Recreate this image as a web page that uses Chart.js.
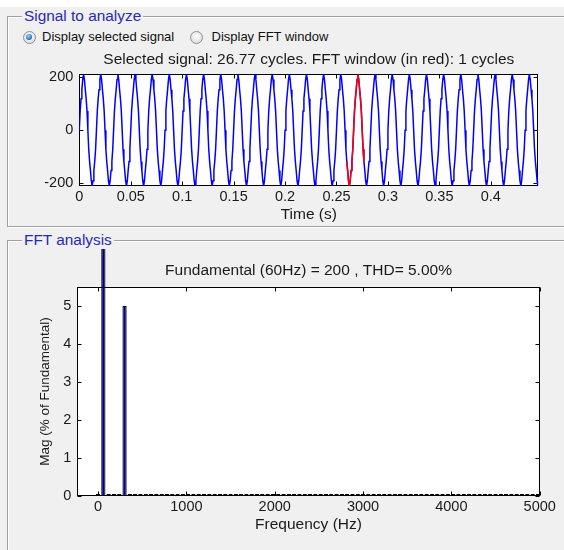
<!DOCTYPE html>
<html><head><meta charset="utf-8">
<script src="https://cdn.jsdelivr.net/npm/chart.js@4.4.0/dist/chart.umd.min.js"></script>
<style>
html,body{margin:0;padding:0;}
body{width:564px;height:550px;background:#f0f0f0;position:relative;overflow:hidden;font-family:"Liberation Sans",Arial,sans-serif;}
.strip{position:absolute;left:0;top:0;width:564px;height:7px;background:#fff;}
.group{position:absolute;border:1px solid #a0a0a0;box-shadow:inset 1px 1px 0 #fff,1px 1px 0 #fff;}
.legend{position:absolute;background:#f0f0f0;color:#2a2ab0;font-size:15.4px;line-height:18px;padding:0 2px;white-space:nowrap;}
.radio{position:absolute;width:11px;height:11px;border-radius:50%;border:1px solid #8e8f8f;background:radial-gradient(circle at 50% 40%,#fff,#d4d4d4);}
.radio.on::after{content:"";position:absolute;left:2.5px;top:2.5px;width:6px;height:6px;border-radius:50%;background:radial-gradient(circle at 40% 35%,#9ad6f7,#1a6fb5 70%,#0d4f8a);}
.rlabel{position:absolute;font-size:13px;line-height:16px;color:#111;white-space:nowrap;}
canvas{position:absolute;left:0;}
</style></head>
<body>
<div class="strip"></div>
<div class="group" style="left:7px;top:16px;width:580px;height:209px;"></div>
<div class="legend" style="left:22px;top:7px;">Signal to analyze</div>
<div class="radio on" style="left:22.5px;top:30.5px;"></div>
<div class="rlabel" style="left:42px;top:29px;">Display selected signal</div>
<div class="radio" style="left:190px;top:31px;"></div>
<div class="rlabel" style="left:211.5px;top:29px;">Display FFT window</div>
<div class="group" style="left:7px;top:240px;width:580px;height:400px;"></div>
<div class="legend" style="left:22px;top:231px;">FFT analysis</div>
<canvas id="sig" width="564" height="186" style="top:44px;width:564px;height:186px;"></canvas>
<canvas id="fft" width="564" height="291" style="top:249px;width:564px;height:291px;"></canvas>
<script>
// ---- data ----
const fundamentalHz = 60;
const samplesPerCycle = 20;
const cyclesShown = 26.77;
const fftWindowStart = 0.26;
const fftWindowCycles = 1;
// one cycle of the selected signal
const cycleSamples = [0, 71.8, 117.6, 151.8, 190.2, 210, 190.2, 151.8, 117.6, 71.8,
                      0, -71.8, -117.6, -151.8, -190.2, -210, -190.2, -151.8, -117.6, -71.8];
const timeTicks = [0, 0.05, 0.1, 0.15, 0.2, 0.25, 0.3, 0.35, 0.4];
const timeTickLabels = ['0', '0.05', '0.1', '0.15', '0.2', '0.25', '0.3', '0.35', '0.4'];
const signalTicks = [-200, 0, 200];
const signalTickLabels = ['-200', '0', '200'];
// FFT magnitude (% of fundamental) per harmonic order 0..83
const fftMagnitude = [0, 100, 0, 0, 0, 5, 0, 0, 0, 0,
  0, 0, 0, 0, 0, 0, 0, 0, 0, 0,
  0, 0, 0, 0, 0, 0, 0, 0, 0, 0,
  0, 0, 0, 0, 0, 0, 0, 0, 0, 0,
  0, 0, 0, 0, 0, 0, 0, 0, 0, 0,
  0, 0, 0, 0, 0, 0, 0, 0, 0, 0,
  0, 0, 0, 0, 0, 0, 0, 0, 0, 0,
  0, 0, 0, 0, 0, 0, 0, 0, 0, 0,
  0, 0, 0, 0];
const freqTicks = [0, 1000, 2000, 3000, 4000, 5000];
const freqTickLabels = ['0', '1000', '2000', '3000', '4000', '5000'];
const magTicks = [0, 1, 2, 3, 4, 5];
const magTickLabels = ['0', '1', '2', '3', '4', '5'];
const signalTitle = 'Selected signal: 26.77 cycles. FFT window (in red): 1 cycles';
const fftTitle = 'Fundamental (60Hz) = 200 , THD= 5.00%';

// ---- build ----
const FONT = '"Liberation Sans", Arial, sans-serif';
const TXT = '#1a1a1a';
const frameTicks = {
  id: 'frameTicks',
  beforeDatasetsDraw(chart, args, opts) {
    const {ctx, chartArea: a, scales} = chart;
    const L = opts.len || 4;
    ctx.save();
    ctx.fillStyle = '#fff';
    ctx.fillRect(a.left, a.top, a.right - a.left, a.bottom - a.top);
    ctx.strokeStyle = '#000';
    ctx.lineWidth = 1;
    const l = Math.round(a.left) + 0.5, r = Math.round(a.right) - 0.5;
    const t = Math.round(a.top) + 0.5, b = Math.round(a.bottom) - 0.5;
    ctx.strokeRect(l, t, r - l, b - t);
    ctx.beginPath();
    scales.x.ticks.forEach(tk => {
      const p = Math.round(scales.x.getPixelForValue(tk.value)) + 0.5;
      ctx.moveTo(p, b); ctx.lineTo(p, b - L);
      ctx.moveTo(p, t); ctx.lineTo(p, t + L);
    });
    scales.y.ticks.forEach(tk => {
      const p = Math.round(scales.y.getPixelForValue(tk.value)) + 0.5;
      ctx.moveTo(l, p); ctx.lineTo(l + L, p);
      ctx.moveTo(r, p); ctx.lineTo(r - L, p);
    });
    ctx.stroke();
    ctx.restore();
  }
};

const sigPts = [], redPts = [];
const nPts = Math.floor(cyclesShown * samplesPerCycle);
const dt = 1 / (fundamentalHz * samplesPerCycle);
const winEnd = fftWindowStart + fftWindowCycles / fundamentalHz;
for (let i = 0; i <= nPts; i++) {
  const t = i * dt;
  const v = cycleSamples[i % samplesPerCycle];
  sigPts.push({x: t, y: v});
  if (t >= fftWindowStart - 1e-9 && t <= winEnd + 1e-9) redPts.push({x: t, y: v});
}

const noGrid = {display: false, drawTicks: false, tickLength: 0};

new Chart(document.getElementById('sig'), {
  type: 'line',
  data: {datasets: [
    {data: redPts, borderColor: '#ff0000', borderWidth: 1.5, pointRadius: 0, tension: 0},
    {data: sigPts, borderColor: '#0000ff', borderWidth: 1.5, pointRadius: 0, tension: 0}
  ]},
  options: {
    responsive: false, animation: false, events: [],
    layout: {padding: {left: 0, right: 25.7, top: 0, bottom: 0}},
    plugins: {
      legend: {display: false}, tooltip: {enabled: false},
      title: {display: true, fullSize: false, text: signalTitle, color: TXT, font: {family: FONT, size: 15.5, weight: 'normal'}, padding: {top: 6.7, bottom: 5}},
      frameTicks: {len: 4}
    },
    scales: {
      x: {
        type: 'linear', min: 0, max: cyclesShown / fundamentalHz,
        afterBuildTicks: s => { s.ticks = timeTicks.map(v => ({value: v})); },
        afterFit: s => { s.height = 44; },
        grid: noGrid, border: {display: false},
        ticks: {padding: 2.3, color: TXT, font: {family: FONT, size: 14.5}, maxRotation: 0, autoSkip: false,
                callback: (v, i) => timeTickLabels[i]},
        title: {display: true, text: 'Time (s)', color: TXT, font: {family: FONT, size: 15.5}, padding: {top: 0, bottom: 5.7}}
      },
      y: {
        min: -210, max: 210,
        afterBuildTicks: s => { s.ticks = signalTicks.map(v => ({value: v})); },
        afterFit: s => { s.width = 79.3; },
        grid: noGrid, border: {display: false},
        ticks: {padding: 6, color: TXT, font: {family: FONT, size: 14.5}, autoSkip: false,
                callback: (v, i) => signalTickLabels[i]}
      }
    }
  },
  plugins: [frameTicks]
});

new Chart(document.getElementById('fft'), {
  type: 'bar',
  data: {datasets: [{
    data: fftMagnitude.map((m, k) => ({x: k * fundamentalHz, y: m})),
    backgroundColor: '#000080', borderColor: '#000000', borderWidth: 1, borderSkipped: false,
    barPercentage: 0.8, categoryPercentage: 1, minBarLength: 2, clip: false
  }]},
  options: {
    responsive: false, animation: false, events: [],
    layout: {padding: {left: 0, right: 24.3, top: 0, bottom: 0}},
    plugins: {
      legend: {display: false}, tooltip: {enabled: false},
      title: {display: true, fullSize: false, text: fftTitle, color: TXT, font: {family: FONT, size: 15.5, weight: 'normal'}, padding: {top: 12.7, bottom: 6.7}},
      frameTicks: {len: 4}
    },
    scales: {
      x: {
        type: 'linear', min: -235, max: 5000, offset: false,
        afterBuildTicks: s => { s.ticks = freqTicks.map(v => ({value: v})); },
        afterFit: s => { s.height = 44; },
        grid: Object.assign({offset: false}, noGrid), border: {display: false},
        ticks: {padding: 2.3, color: TXT, font: {family: FONT, size: 14.5}, maxRotation: 0, autoSkip: false,
                callback: (v, i) => freqTickLabels[i]},
        title: {display: true, text: 'Frequency (Hz)', color: TXT, font: {family: FONT, size: 15.5}, padding: {top: 0, bottom: 5.7}}
      },
      y: {
        min: 0, max: 5.5,
        afterBuildTicks: s => { s.ticks = magTicks.map(v => ({value: v})); },
        afterFit: s => { s.width = 77.3; },
        grid: noGrid, border: {display: false},
        ticks: {padding: 6, color: TXT, font: {family: FONT, size: 14.5}, autoSkip: false,
                callback: (v, i) => magTickLabels[i]},
        title: {display: true, text: 'Mag (% of Fundamental)', color: TXT, font: {family: FONT, size: 13.5}, padding: {top: 36.9, bottom: 0}}
      }
    }
  },
  plugins: [frameTicks]
});
</script>
</body></html>
